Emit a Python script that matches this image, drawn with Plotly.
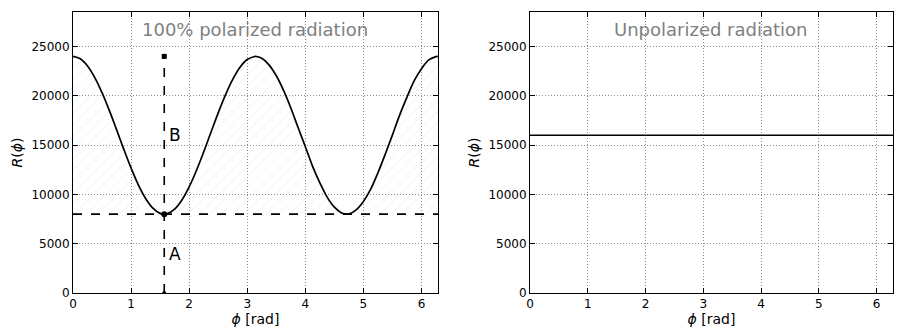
import plotly.graph_objects as go
from plotly.subplots import make_subplots

# phase angle [rad] and signal
phi = [0.0, 0.125, 0.25, 0.375, 0.5, 0.625, 0.75, 0.875, 1.0, 1.125, 1.25, 1.375,
       1.5, 1.571, 1.625, 1.75, 1.875, 2.0, 2.125, 2.25, 2.375, 2.5, 2.625, 2.75,
       2.875, 3.0, 3.125, 3.142, 3.25, 3.375, 3.5, 3.625, 3.75, 3.875, 4.0, 4.125,
       4.25, 4.375, 4.5, 4.625, 4.712, 4.75, 4.875, 5.0, 5.125, 5.25, 5.375, 5.5,
       5.625, 5.75, 5.875, 6.0, 6.125, 6.25, 6.283]
r_polarized = [24000, 23750, 23020, 21850, 20320, 18520, 16570, 14570, 12670, 10970,
               9590, 8610, 8080, 8000, 8050, 8510, 9440, 10770, 12430, 14310, 16300,
               18270, 20100, 21670, 22900, 23680, 23990, 24000, 23810, 23140, 22030,
               20550, 18770, 16780, 14840, 12850, 11180, 9730, 8710, 8120, 8000, 8020,
               8440, 9290, 10530, 12200, 14070, 16040, 18070, 19870, 21540, 22750,
               23640, 23980, 24000]

# unpolarized panel: flat level
phi_flat = [0.0, 6.283]
r_unpolarized = [16000, 16000]

# reference markers: A = minimum level, B = modulation amplitude
phi_min = 1.571
r_min = 8000
r_max = 24000

x_ticks = [0, 1, 2, 3, 4, 5, 6]
y_ticks = [0, 5000, 10000, 15000, 20000, 25000]

FONT = "DejaVu Sans"

fig = make_subplots(rows=1, cols=2)

# hatched band between the minimum level and the curve
fig.add_trace(go.Scatter(x=phi, y=[r_min] * len(phi), mode="lines",
                         line=dict(width=0), showlegend=False, hoverinfo="skip"),
              row=1, col=1)
fig.add_trace(go.Scatter(x=phi, y=r_polarized, mode="lines", fill="tonexty",
                         fillcolor="rgba(0,0,0,0)",
                         fillpattern=dict(shape="/", fgcolor="#dcdcdc", bgcolor="rgba(0,0,0,0)",
                                          size=8, solidity=0.1),
                         line=dict(width=0), showlegend=False, hoverinfo="skip"),
              row=1, col=1)

# curve
fig.add_trace(go.Scatter(x=phi, y=r_polarized, mode="lines", line_shape="spline",
                         line=dict(color="black", width=1.7), showlegend=False),
              row=1, col=1)

# dashed guides
fig.add_trace(go.Scatter(x=[0, 6.283], y=[r_min, r_min], mode="lines",
                         line=dict(color="black", width=1.6, dash="dash"), showlegend=False),
              row=1, col=1)
fig.add_trace(go.Scatter(x=[phi_min, phi_min], y=[0, r_max], mode="lines",
                         line=dict(color="black", width=1.6, dash="dash"), showlegend=False),
              row=1, col=1)

# markers
fig.add_trace(go.Scatter(x=[phi_min], y=[r_max], mode="markers",
                         marker=dict(symbol="square", size=5, color="black"), showlegend=False),
              row=1, col=1)
fig.add_trace(go.Scatter(x=[phi_min], y=[r_min], mode="markers",
                         marker=dict(symbol="circle", size=6, color="black"), showlegend=False),
              row=1, col=1)
fig.add_trace(go.Scatter(x=[phi_min], y=[0], mode="markers",
                         marker=dict(symbol="triangle-up", size=6, color="black"), showlegend=False),
              row=1, col=1)

# unpolarized
fig.add_trace(go.Scatter(x=phi_flat, y=r_unpolarized, mode="lines",
                         line=dict(color="black", width=1.7), showlegend=False),
              row=1, col=2)

fig.add_annotation(x=3.14, y=26700, xref="x", yref="y", text="100% polarized radiation",
                   showarrow=False, font=dict(family=FONT, size=18, color="#808080"))
fig.add_annotation(x=3.14, y=26700, xref="x2", yref="y2", text="Unpolarized radiation",
                   showarrow=False, font=dict(family=FONT, size=18, color="#808080"))
fig.add_annotation(x=phi_min + 0.05, y=16000, xref="x", yref="y", text="B", xanchor="left",
                   showarrow=False, font=dict(family=FONT, size=17, color="black"))
fig.add_annotation(x=phi_min + 0.05, y=4000, xref="x", yref="y", text="A", xanchor="left",
                   showarrow=False, font=dict(family=FONT, size=17, color="black"))

axis_common = dict(
    showline=True, linecolor="black", linewidth=1, mirror="allticks",
    ticks="inside", ticklen=5, tickcolor="black",
    showgrid=True, gridcolor="#8c8c8c", griddash="1px,2px", gridwidth=1,
    zeroline=False, tickfont=dict(family=FONT, size=12, color="black"),
    automargin=False,
)

fig.update_xaxes(range=[0, 6.283], tickvals=x_ticks, **axis_common,
                 title=dict(text="<i>ϕ</i> [rad]", standoff=1,
                            font=dict(family=FONT, size=14, color="black")))
fig.update_yaxes(range=[0, 28500], tickvals=y_ticks, tickformat="d", **axis_common,
                 title=dict(text="<i>R</i>(<i>ϕ</i>)", standoff=5,
                            font=dict(family=FONT, size=14, color="black")))

# page body keeps an 8px margin, so the figure is 8px smaller than the window
fig.update_layout(
    width=909, height=323,
    margin=dict(l=0, r=0, t=0, b=0),
    plot_bgcolor="white", paper_bgcolor="white",
    xaxis=dict(domain=[0.0715, 0.4730]),
    xaxis2=dict(domain=[0.5743, 0.9736]),
    yaxis=dict(domain=[0.1176, 0.9876]),
    yaxis2=dict(domain=[0.1176, 0.9876]),
)

fig.write_html("out.html")
